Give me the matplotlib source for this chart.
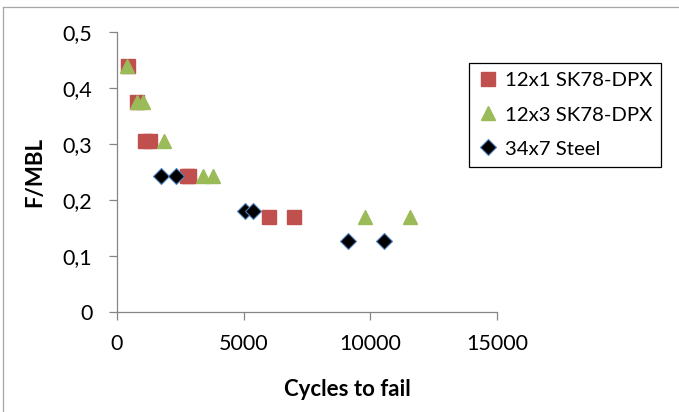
import matplotlib.pyplot as plt
from matplotlib.lines import Line2D

plt.rcParams['font.family'] = ['Lato', 'DejaVu Sans']

# —— data —— #
sk_1_x = [430, 790, 1100, 1300, 2750, 2850, 6000, 7000]
sk_1_y = [0.44, 0.375, 0.306, 0.306, 0.243, 0.243, 0.17, 0.17]

sk_3_x = [400, 800, 1030, 1850, 3400, 3780, 9800, 11560]
sk_3_y = [0.44, 0.375, 0.375, 0.306, 0.243, 0.243, 0.17, 0.17]

steel_x = [1740, 2340, 5050, 5370, 9120, 10540]
steel_y = [0.243, 0.243, 0.18, 0.18, 0.127, 0.127]

xticks = [0, 5000, 10000, 15000]
yticks = [0, 0.1, 0.2, 0.3, 0.4, 0.5]
ytick_labels = ["0", "0,1", "0,2", "0,3", "0,4", "0,5"]

# —— plot —— #
W, H = 679, 412
fig = plt.figure(figsize=(W / 100, H / 100), dpi=100)
ax = fig.add_axes([117 / W, 1 - 312 / H, (497 - 117) / W, (312 - 32) / H])

ax.plot(sk_1_x, sk_1_y, ls="none", marker="s", ms=9.8, color="#C0504D",
        mec="#C0504D", label="12x1 SK78-DPX", clip_on=False)
ax.plot(sk_3_x, sk_3_y, ls="none", marker="^", ms=10.5, color="#9BBB59",
        mec="#9BBB59", label="12x3 SK78-DPX", clip_on=False)
ax.plot(steel_x, steel_y, ls="none", marker="D", ms=8.4, color="black",
        mec="#4F81BD", mew=0.8, label="34x7 Steel", clip_on=False)

ax.set_xlim(0, 15000)
ax.set_ylim(0, 0.5)
ax.set_xticks(xticks)
ax.set_yticks(yticks)
ax.set_yticklabels(ytick_labels)

gray = "#868686"
for s in ["top", "right"]:
    ax.spines[s].set_visible(False)
for s in ["left", "bottom"]:
    ax.spines[s].set_color(gray)
    ax.spines[s].set_linewidth(0.9)
ax.tick_params(direction="out", length=5.8, width=0.9, color=gray,
               labelsize=15.5, pad=10)
ax.tick_params(axis="y", pad=12)

fig.text(347 / W, 1 - 390 / H, "Cycles to fail", ha="center", va="center",
         fontsize=16, fontweight="bold")
fig.text(35 / W, 1 - 172 / H, "F/MBL", ha="center", va="center",
         rotation=90, fontsize=16, fontweight="bold")

leg = fig.legend(loc="upper left", bbox_to_anchor=(469 / W, 1 - 63 / H),
                 borderaxespad=0, fontsize=14.7, frameon=True, fancybox=False,
                 edgecolor="black", framealpha=1, handlelength=1.0,
                 handletextpad=0.3, borderpad=0.45, labelspacing=0.82)
leg.get_frame().set_linewidth(0.9)

# chart area border (only left and top visible in the crop)
fig.add_artist(Line2D([3 / W, 3 / W], [0, 1 - 7 / H], transform=fig.transFigure,
                      color="#A6A6A6", lw=0.9))
fig.add_artist(Line2D([3 / W, 1], [1 - 7 / H, 1 - 7 / H], transform=fig.transFigure,
                      color="#A6A6A6", lw=0.9))

fig.savefig("out.png", dpi=100)
